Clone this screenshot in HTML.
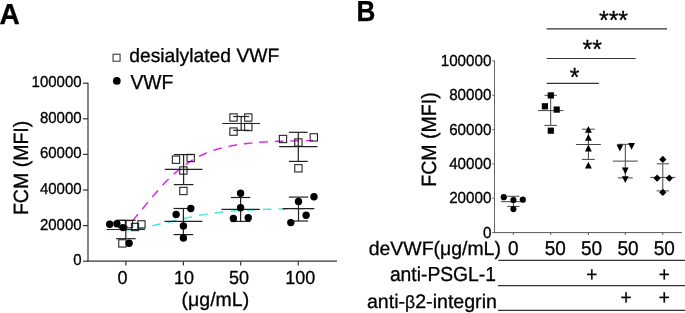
<!DOCTYPE html>
<html><head><meta charset="utf-8"><style>
html,body{margin:0;padding:0;background:#fff;width:685px;height:313px;overflow:hidden}
svg{display:block;will-change:transform}
text{font-family:"Liberation Sans",sans-serif;fill:#000;stroke:#000;stroke-width:0.3px;text-rendering:geometricPrecision}
</style></head><body>
<svg width="685" height="313" viewBox="0 0 685 313">
<text transform="translate(-0.6 24) scale(0.97 1)" font-size="29" font-weight="bold">A</text>
<rect x="113.05" y="54.2" width="7.0" height="7.0" fill="none" stroke="#333" stroke-width="1.05"/>
<circle cx="116.8" cy="80.9" r="3.85" fill="#000"/>
<text transform="translate(129.2 61.6) scale(1 1.0)" font-size="19.3" text-anchor="start" font-weight="normal" >desialylated VWF</text>
<text transform="translate(130.4 88.6) scale(1 1.05)" font-size="19.3" text-anchor="start" font-weight="normal" >VWF</text>
<line x1="88" y1="82.7" x2="88" y2="261.2" stroke="#333" stroke-width="1.2"/>
<line x1="87.4" y1="261.2" x2="337" y2="261.2" stroke="#333" stroke-width="1.2"/>
<line x1="83" y1="261.2" x2="88" y2="261.2" stroke="#333" stroke-width="1.2"/>
<text transform="translate(81.6 265.09999999999997) scale(1 1.05)" font-size="15" text-anchor="end" font-weight="normal" >0</text>
<line x1="83" y1="225.6" x2="88" y2="225.6" stroke="#333" stroke-width="1.2"/>
<text transform="translate(81.6 229.5) scale(1 1.05)" font-size="15" text-anchor="end" font-weight="normal" >20000</text>
<line x1="83" y1="190.0" x2="88" y2="190.0" stroke="#333" stroke-width="1.2"/>
<text transform="translate(81.6 193.9) scale(1 1.05)" font-size="15" text-anchor="end" font-weight="normal" >40000</text>
<line x1="83" y1="154.39999999999998" x2="88" y2="154.39999999999998" stroke="#333" stroke-width="1.2"/>
<text transform="translate(81.6 158.29999999999998) scale(1 1.05)" font-size="15" text-anchor="end" font-weight="normal" >60000</text>
<line x1="83" y1="118.79999999999998" x2="88" y2="118.79999999999998" stroke="#333" stroke-width="1.2"/>
<text transform="translate(81.6 122.69999999999999) scale(1 1.05)" font-size="15" text-anchor="end" font-weight="normal" >80000</text>
<line x1="83" y1="83.19999999999999" x2="88" y2="83.19999999999999" stroke="#333" stroke-width="1.2"/>
<text transform="translate(81.6 87.1) scale(1 1.05)" font-size="15" text-anchor="end" font-weight="normal" >100000</text>
<line x1="125.9" y1="261.2" x2="125.9" y2="265.5" stroke="#333" stroke-width="1.2"/>
<text transform="translate(122.6 284.0) scale(1 1.05)" font-size="18" text-anchor="middle" font-weight="normal" >0</text>
<line x1="183.4" y1="261.2" x2="183.4" y2="265.5" stroke="#333" stroke-width="1.2"/>
<text transform="translate(184 284.0) scale(1 1.05)" font-size="18" text-anchor="middle" font-weight="normal" >10</text>
<line x1="240.7" y1="261.2" x2="240.7" y2="265.5" stroke="#333" stroke-width="1.2"/>
<text transform="translate(238.9 284.0) scale(1 1.05)" font-size="18" text-anchor="middle" font-weight="normal" >50</text>
<line x1="298.3" y1="261.2" x2="298.3" y2="265.5" stroke="#333" stroke-width="1.2"/>
<text transform="translate(300.3 284.0) scale(1 1.05)" font-size="18" text-anchor="middle" font-weight="normal" >100</text>
<text transform="translate(215.4 305.6) scale(1 1.0)" font-size="19.5" text-anchor="middle" font-weight="normal" >(μg/mL)</text>
<text transform="translate(28.1 167.9) rotate(-90) scale(1 1.055)" font-size="19.55" text-anchor="middle">FCM (MFI)</text>
<path d="M125.50,228.67 L128.62,225.18 L131.75,221.58 L134.88,217.90 L138.00,214.17 L141.12,210.40 L144.25,206.61 L147.38,202.83 L150.50,199.09 L153.62,195.40 L156.75,191.79 L159.88,188.27 L163.00,184.86 L166.12,181.59 L169.25,178.45 L172.38,175.46 L175.50,172.63 L178.62,169.96 L181.75,167.45 L184.88,165.10 L188.00,162.92 L191.12,160.89 L194.25,159.01 L197.38,157.28 L200.50,155.68 L203.62,154.22 L206.75,152.88 L209.88,151.66 L213.00,150.55 L216.12,149.53 L219.25,148.61 L222.38,147.78 L225.50,147.02 L228.62,146.34 L231.75,145.72 L234.88,145.17 L238.00,144.66 L241.12,144.21 L244.25,143.80 L247.38,143.44 L250.50,143.11 L253.62,142.81 L256.75,142.55 L259.88,142.31 L263.00,142.09 L266.12,141.90 L269.25,141.73 L272.38,141.57 L275.50,141.44 L278.62,141.31 L281.75,141.20 L284.88,141.10 L288.00,141.01 L291.12,140.93 L294.25,140.86 L297.38,140.80 L300.50,140.74 L303.62,140.69 L306.75,140.64 L309.88,140.60 L313.00,140.56" fill="none" stroke="#e61ee8" stroke-width="1.45" stroke-dasharray="8.6 6.98" stroke-dashoffset="5.2"/>
<path d="M125.60,230.50 L128.72,230.06 L131.85,229.60 L134.97,229.10 L138.09,228.58 L141.22,228.02 L144.34,227.43 L147.46,226.81 L150.59,226.17 L153.71,225.50 L156.83,224.81 L159.96,224.10 L163.08,223.38 L166.20,222.65 L169.33,221.91 L172.45,221.17 L175.57,220.44 L178.70,219.71 L181.82,218.99 L184.94,218.30 L188.07,217.62 L191.19,216.96 L194.31,216.33 L197.44,215.73 L200.56,215.16 L203.68,214.62 L206.81,214.11 L209.93,213.63 L213.05,213.19 L216.18,212.77 L219.30,212.39 L222.42,212.03 L225.55,211.70 L228.67,211.40 L231.79,211.13 L234.92,210.87 L238.04,210.64 L241.16,210.43 L244.29,210.24 L247.41,210.07 L250.53,209.91 L253.66,209.77 L256.78,209.64 L259.90,209.53 L263.03,209.42 L266.15,209.33 L269.27,209.24 L272.40,209.17 L275.52,209.10 L278.64,209.04 L281.77,208.98 L284.89,208.93 L288.01,208.89 L291.14,208.85 L294.26,208.81 L297.38,208.78 L300.51,208.75 L303.63,208.72 L306.75,208.70 L309.88,208.68 L313.00,208.66" fill="none" stroke="#44efd4" stroke-width="1.5" stroke-dasharray="8.8 7.2" stroke-dashoffset="5.1"/>
<line x1="125.8" y1="220.3" x2="125.8" y2="238.7" stroke="#222" stroke-width="1.2"/>
<line x1="116.0" y1="220.3" x2="135.6" y2="220.3" stroke="#222" stroke-width="1.2"/>
<line x1="116.0" y1="238.7" x2="135.6" y2="238.7" stroke="#222" stroke-width="1.2"/>
<line x1="106.55" y1="229.5" x2="145.05" y2="229.5" stroke="#222" stroke-width="1.2"/>
<rect x="118.55" y="220.35" width="7.3" height="7.3" fill="none" stroke="#1a1a1a" stroke-width="1.05"/>
<rect x="125.35" y="220.54999999999998" width="7.3" height="7.3" fill="none" stroke="#1a1a1a" stroke-width="1.05"/>
<rect x="131.35" y="223.35" width="7.3" height="7.3" fill="none" stroke="#1a1a1a" stroke-width="1.05"/>
<rect x="137.75" y="220.75" width="7.3" height="7.3" fill="none" stroke="#1a1a1a" stroke-width="1.05"/>
<rect x="118.75" y="239.75" width="7.3" height="7.3" fill="none" stroke="#1a1a1a" stroke-width="1.05"/>
<circle cx="109.7" cy="224.3" r="3.7" fill="#000"/>
<circle cx="116.9" cy="223.8" r="3.7" fill="#000"/>
<circle cx="123" cy="227.6" r="3.7" fill="#000"/>
<circle cx="129.1" cy="243.3" r="3.7" fill="#000"/>
<line x1="183.6" y1="154.6" x2="183.6" y2="184.6" stroke="#222" stroke-width="1.2"/>
<line x1="173.79999999999998" y1="154.6" x2="193.4" y2="154.6" stroke="#222" stroke-width="1.2"/>
<line x1="173.79999999999998" y1="184.6" x2="193.4" y2="184.6" stroke="#222" stroke-width="1.2"/>
<line x1="164.75" y1="169.3" x2="202.45" y2="169.3" stroke="#222" stroke-width="1.2"/>
<rect x="172.35" y="156.04999999999998" width="7.3" height="7.3" fill="none" stroke="#1a1a1a" stroke-width="1.05"/>
<rect x="187.04999999999998" y="154.35" width="7.3" height="7.3" fill="none" stroke="#1a1a1a" stroke-width="1.05"/>
<rect x="179.75" y="166.85" width="7.3" height="7.3" fill="none" stroke="#1a1a1a" stroke-width="1.05"/>
<rect x="179.75" y="187.35" width="7.3" height="7.3" fill="none" stroke="#1a1a1a" stroke-width="1.05"/>
<line x1="183.4" y1="208.5" x2="183.4" y2="234.6" stroke="#222" stroke-width="1.2"/>
<line x1="173.6" y1="208.5" x2="193.20000000000002" y2="208.5" stroke="#222" stroke-width="1.2"/>
<line x1="173.6" y1="234.6" x2="193.20000000000002" y2="234.6" stroke="#222" stroke-width="1.2"/>
<line x1="164.45000000000002" y1="221.4" x2="202.35" y2="221.4" stroke="#222" stroke-width="1.2"/>
<circle cx="190.8" cy="208.5" r="3.7" fill="#000"/>
<circle cx="176.1" cy="214.5" r="3.7" fill="#000"/>
<circle cx="183.4" cy="225.9" r="3.7" fill="#000"/>
<circle cx="183.4" cy="238" r="3.7" fill="#000"/>
<line x1="241.2" y1="116.5" x2="241.2" y2="130.3" stroke="#222" stroke-width="1.2"/>
<line x1="233.2" y1="116.5" x2="249.2" y2="116.5" stroke="#222" stroke-width="1.2"/>
<line x1="233.2" y1="130.3" x2="249.2" y2="130.3" stroke="#222" stroke-width="1.2"/>
<line x1="222.29999999999998" y1="123.5" x2="260.09999999999997" y2="123.5" stroke="#222" stroke-width="1.2"/>
<rect x="229.85" y="113.85" width="7.3" height="7.3" fill="none" stroke="#1a1a1a" stroke-width="1.05"/>
<rect x="244.65" y="113.85" width="7.3" height="7.3" fill="none" stroke="#1a1a1a" stroke-width="1.05"/>
<rect x="229.85" y="127.94999999999999" width="7.3" height="7.3" fill="none" stroke="#1a1a1a" stroke-width="1.05"/>
<rect x="244.65" y="123.35" width="7.3" height="7.3" fill="none" stroke="#1a1a1a" stroke-width="1.05"/>
<line x1="240.6" y1="197.5" x2="240.6" y2="221.4" stroke="#222" stroke-width="1.2"/>
<line x1="230.85" y1="197.5" x2="250.35" y2="197.5" stroke="#222" stroke-width="1.2"/>
<line x1="230.85" y1="221.4" x2="250.35" y2="221.4" stroke="#222" stroke-width="1.2"/>
<line x1="221.45" y1="209.4" x2="259.75" y2="209.4" stroke="#222" stroke-width="1.2"/>
<circle cx="240.6" cy="193.3" r="3.7" fill="#000"/>
<circle cx="240.6" cy="207.7" r="3.7" fill="#000"/>
<circle cx="233.4" cy="218.5" r="3.7" fill="#000"/>
<circle cx="248.2" cy="217.7" r="3.7" fill="#000"/>
<line x1="298.3" y1="132.3" x2="298.3" y2="161.4" stroke="#222" stroke-width="1.2"/>
<line x1="288.90000000000003" y1="132.3" x2="307.7" y2="132.3" stroke="#222" stroke-width="1.2"/>
<line x1="288.90000000000003" y1="161.4" x2="307.7" y2="161.4" stroke="#222" stroke-width="1.2"/>
<line x1="279.15000000000003" y1="146.7" x2="317.45" y2="146.7" stroke="#222" stroke-width="1.2"/>
<rect x="279.35" y="135.35" width="7.3" height="7.3" fill="none" stroke="#1a1a1a" stroke-width="1.05"/>
<rect x="294.75" y="138.85" width="7.3" height="7.3" fill="none" stroke="#1a1a1a" stroke-width="1.05"/>
<rect x="310.15000000000003" y="133.75" width="7.3" height="7.3" fill="none" stroke="#1a1a1a" stroke-width="1.05"/>
<rect x="294.75" y="164.65" width="7.3" height="7.3" fill="none" stroke="#1a1a1a" stroke-width="1.05"/>
<line x1="298.5" y1="197.1" x2="298.5" y2="221" stroke="#222" stroke-width="1.2"/>
<line x1="288.85" y1="197.1" x2="308.15" y2="197.1" stroke="#222" stroke-width="1.2"/>
<line x1="288.85" y1="221" x2="308.15" y2="221" stroke="#222" stroke-width="1.2"/>
<line x1="282.65" y1="208.7" x2="314.35" y2="208.7" stroke="#222" stroke-width="1.2"/>
<circle cx="314" cy="196.7" r="3.7" fill="#000"/>
<circle cx="298.5" cy="201.5" r="3.7" fill="#000"/>
<circle cx="306.1" cy="215.2" r="3.7" fill="#000"/>
<circle cx="290.8" cy="222.6" r="3.7" fill="#000"/>
<text transform="translate(356.5 20.7) scale(0.9 1)" font-size="29" font-weight="bold">B</text>
<line x1="494.5" y1="60.4" x2="494.5" y2="233.1" stroke="#666" stroke-width="1.0"/>
<line x1="494.0" y1="232.6" x2="681.8" y2="232.6" stroke="#555" stroke-width="1.0"/>
<line x1="492.2" y1="232.6" x2="494.5" y2="232.6" stroke="#666" stroke-width="1.0"/>
<text transform="translate(491.4 237.6) scale(1 1.05)" font-size="15.2" text-anchor="end" font-weight="normal" >0</text>
<line x1="492.2" y1="198.26" x2="494.5" y2="198.26" stroke="#666" stroke-width="1.0"/>
<text transform="translate(491.4 203.26) scale(1 1.05)" font-size="15.2" text-anchor="end" font-weight="normal" >20000</text>
<line x1="492.2" y1="163.92" x2="494.5" y2="163.92" stroke="#666" stroke-width="1.0"/>
<text transform="translate(491.4 168.92) scale(1 1.05)" font-size="15.2" text-anchor="end" font-weight="normal" >40000</text>
<line x1="492.2" y1="129.57999999999998" x2="494.5" y2="129.57999999999998" stroke="#666" stroke-width="1.0"/>
<text transform="translate(491.4 134.57999999999998) scale(1 1.05)" font-size="15.2" text-anchor="end" font-weight="normal" >60000</text>
<line x1="492.2" y1="95.23999999999998" x2="494.5" y2="95.23999999999998" stroke="#666" stroke-width="1.0"/>
<text transform="translate(491.4 100.23999999999998) scale(1 1.05)" font-size="15.2" text-anchor="end" font-weight="normal" >80000</text>
<line x1="492.2" y1="60.900000000000006" x2="494.5" y2="60.900000000000006" stroke="#666" stroke-width="1.0"/>
<text transform="translate(491.4 65.9) scale(1 1.05)" font-size="15.2" text-anchor="end" font-weight="normal" >100000</text>
<text transform="translate(436.0 139.5) rotate(-90) scale(1 1.055)" font-size="19.55" text-anchor="middle">FCM (MFI)</text>
<line x1="513.4" y1="232.6" x2="513.4" y2="235" stroke="#555" stroke-width="1.0"/>
<line x1="550.7" y1="232.6" x2="550.7" y2="235" stroke="#555" stroke-width="1.0"/>
<line x1="588.4" y1="232.6" x2="588.4" y2="235" stroke="#555" stroke-width="1.0"/>
<line x1="625.3" y1="232.6" x2="625.3" y2="235" stroke="#555" stroke-width="1.0"/>
<line x1="662.8" y1="232.6" x2="662.8" y2="235" stroke="#555" stroke-width="1.0"/>
<line x1="546.6" y1="28.9" x2="667" y2="28.9" stroke="#333" stroke-width="1.2"/>
<line x1="546.6" y1="58.5" x2="635.7" y2="58.5" stroke="#333" stroke-width="1.2"/>
<line x1="546.6" y1="83.3" x2="598.9" y2="83.3" stroke="#333" stroke-width="1.2"/>
<text transform="translate(613.5 29.0) scale(1 1.05)" font-size="25" text-anchor="middle" font-weight="normal" stroke="#000" stroke-width="0.25">***</text>
<text transform="translate(592.3 57.9) scale(1 1.05)" font-size="25" text-anchor="middle" font-weight="normal" stroke="#000" stroke-width="0.25">**</text>
<text transform="translate(574.5 86.3) scale(1 1.05)" font-size="25" text-anchor="middle" font-weight="normal" stroke="#000" stroke-width="0.25">*</text>
<line x1="513.4" y1="196.3" x2="513.4" y2="206.4" stroke="#444" stroke-width="1.0"/>
<line x1="507.25" y1="196.3" x2="519.55" y2="196.3" stroke="#444" stroke-width="1.0"/>
<line x1="507.25" y1="206.4" x2="519.55" y2="206.4" stroke="#444" stroke-width="1.0"/>
<line x1="501.0" y1="201.7" x2="525.8" y2="201.7" stroke="#444" stroke-width="1.0"/>
<circle cx="503.8" cy="197.2" r="3.1" fill="#000"/>
<circle cx="513.4" cy="200" r="3.1" fill="#000"/>
<circle cx="522.8" cy="199.6" r="3.1" fill="#000"/>
<circle cx="513.4" cy="209.1" r="3.1" fill="#000"/>
<line x1="550.7" y1="95.3" x2="550.7" y2="125.4" stroke="#444" stroke-width="1.0"/>
<line x1="544.5" y1="95.3" x2="556.9000000000001" y2="95.3" stroke="#444" stroke-width="1.0"/>
<line x1="544.5" y1="125.4" x2="556.9000000000001" y2="125.4" stroke="#444" stroke-width="1.0"/>
<line x1="537.95" y1="110.6" x2="563.45" y2="110.6" stroke="#444" stroke-width="1.0"/>
<rect x="547.6999999999999" y="92.30000000000001" width="6.2" height="6.2" fill="#000"/>
<rect x="541.8" y="103.2" width="6.2" height="6.2" fill="#000"/>
<rect x="553.6" y="106.5" width="6.2" height="6.2" fill="#000"/>
<rect x="547.6999999999999" y="127.6" width="6.2" height="6.2" fill="#000"/>
<line x1="588.4" y1="129.2" x2="588.4" y2="159.4" stroke="#444" stroke-width="1.0"/>
<line x1="582.0" y1="129.2" x2="594.8" y2="129.2" stroke="#444" stroke-width="1.0"/>
<line x1="582.0" y1="159.4" x2="594.8" y2="159.4" stroke="#444" stroke-width="1.0"/>
<line x1="575.9499999999999" y1="144.5" x2="600.85" y2="144.5" stroke="#444" stroke-width="1.0"/>
<polygon points="588.4,126.0 591.8,132.8 585.0,132.8" fill="#000"/>
<polygon points="588.4,134.0 591.8,140.8 585.0,140.8" fill="#000"/>
<polygon points="588.4,144.6 591.8,151.4 585.0,151.4" fill="#000"/>
<polygon points="588.4,161.79999999999998 591.8,168.6 585.0,168.6" fill="#000"/>
<line x1="625.3" y1="144.3" x2="625.3" y2="177.9" stroke="#444" stroke-width="1.0"/>
<line x1="617.8499999999999" y1="144.3" x2="632.75" y2="144.3" stroke="#444" stroke-width="1.0"/>
<line x1="617.8499999999999" y1="177.9" x2="632.75" y2="177.9" stroke="#444" stroke-width="1.0"/>
<line x1="612.8" y1="161.1" x2="637.8" y2="161.1" stroke="#444" stroke-width="1.0"/>
<polygon points="619.9,151.4 623.3,144.6 616.5,144.6" fill="#000"/>
<polygon points="631.6,149.8 635.0,143.0 628.2,143.0" fill="#000"/>
<polygon points="625.3,174.20000000000002 628.6999999999999,167.4 621.9,167.4" fill="#000"/>
<polygon points="625.3,183.1 628.6999999999999,176.29999999999998 621.9,176.29999999999998" fill="#000"/>
<line x1="662.8" y1="163.8" x2="662.8" y2="190.9" stroke="#444" stroke-width="1.0"/>
<line x1="656.6999999999999" y1="163.8" x2="668.9" y2="163.8" stroke="#444" stroke-width="1.0"/>
<line x1="656.6999999999999" y1="190.9" x2="668.9" y2="190.9" stroke="#444" stroke-width="1.0"/>
<line x1="650.3499999999999" y1="177.4" x2="675.25" y2="177.4" stroke="#444" stroke-width="1.0"/>
<polygon points="662.8,155.8 666.4,159.4 662.8,163.0 659.1999999999999,159.4" fill="#000"/>
<polygon points="657.1,174.6 660.7,178.2 657.1,181.79999999999998 653.5,178.2" fill="#000"/>
<polygon points="669.3,174.6 672.9,178.2 669.3,181.79999999999998 665.6999999999999,178.2" fill="#000"/>
<polygon points="662.8,188.8 666.4,192.4 662.8,196.0 659.1999999999999,192.4" fill="#000"/>
<text transform="translate(500.9 254.5) scale(1 1.0)" font-size="19.45" text-anchor="end" font-weight="normal" >deVWF(μg/mL)</text>
<text transform="translate(496.0 280.6) scale(1 1.05)" font-size="19.3" text-anchor="end" font-weight="normal" >anti-PSGL-1</text>
<text transform="translate(496.9 307.7) scale(1 1.0)" font-size="19.6" text-anchor="end" font-weight="normal" >anti-<tspan font-size="17.6">β</tspan>2-integrin</text>
<text transform="translate(513.4 254.5) scale(1 1.05)" font-size="19" text-anchor="middle" font-weight="normal" >0</text>
<text transform="translate(555.2 254.5) scale(1 1.05)" font-size="19" text-anchor="middle" font-weight="normal" >50</text>
<text transform="translate(591.5 254.5) scale(1 1.05)" font-size="19" text-anchor="middle" font-weight="normal" >50</text>
<text transform="translate(628.1 254.5) scale(1 1.05)" font-size="19" text-anchor="middle" font-weight="normal" >50</text>
<text transform="translate(664.3 254.5) scale(1 1.05)" font-size="19" text-anchor="middle" font-weight="normal" >50</text>
<line x1="498.5" y1="260.4" x2="685" y2="260.4" stroke="#333" stroke-width="1.2"/>
<line x1="498" y1="285.6" x2="685" y2="285.6" stroke="#333" stroke-width="1.2"/>
<line x1="498" y1="310.4" x2="685" y2="310.4" stroke="#333" stroke-width="1.2"/>
<text transform="translate(591.8 280.9) scale(1 1.05)" font-size="19" text-anchor="middle" font-weight="normal" >+</text>
<text transform="translate(664.4 280.9) scale(1 1.05)" font-size="19" text-anchor="middle" font-weight="normal" >+</text>
<text transform="translate(626 304.0) scale(1 1.05)" font-size="19" text-anchor="middle" font-weight="normal" >+</text>
<text transform="translate(664.4 304.0) scale(1 1.05)" font-size="19" text-anchor="middle" font-weight="normal" >+</text>
</svg>
</body></html>
